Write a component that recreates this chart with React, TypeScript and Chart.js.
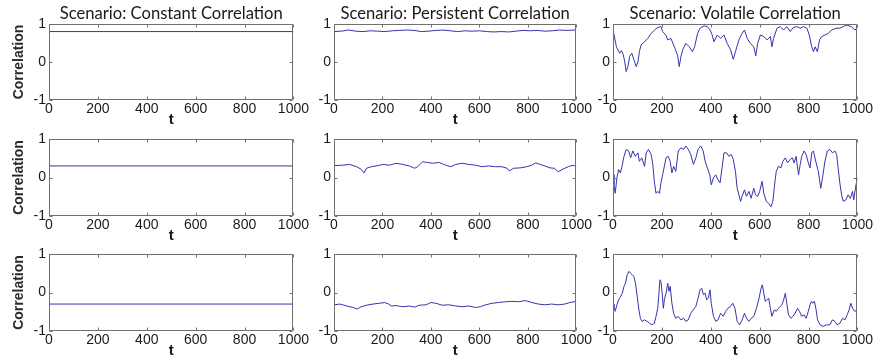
import React, { useEffect, useRef } from "react";
import { Chart, registerables } from "chart.js";

Chart.register(...registerables);

// ---------- data ----------
const TITLES = [
  "Scenario: Constant Correlation",
  "Scenario: Persistent Correlation",
  "Scenario: Volatile Correlation",
];
const Y_TITLE = "Correlation";
const X_TITLE = "t";
const X_TICKS = [0, 200, 400, 600, 800, 1000];
const Y_TICKS = [-1, 0, 1];

// constant scenario
const C_T = [0, 1000];
const C1_V = [0.8, 0.8];
const C2_V = [0.3, 0.3];
const C3_V = [-0.3, -0.3];

// persistent scenario
const P1_T = [0, 30, 60, 90, 120, 150, 180, 210, 240, 270, 300, 330, 360, 390, 420, 450, 480, 510, 540, 570, 600, 630, 660, 690, 720, 750, 780, 810, 840, 870, 900, 930, 960, 990, 1000];
const P1_V = [0.8, 0.81, 0.84, 0.81, 0.8, 0.82, 0.81, 0.8, 0.82, 0.83, 0.84, 0.83, 0.8, 0.81, 0.83, 0.84, 0.82, 0.8, 0.82, 0.81, 0.82, 0.8, 0.79, 0.8, 0.79, 0.81, 0.83, 0.82, 0.83, 0.81, 0.82, 0.84, 0.83, 0.84, 0.85];

const P2_T = [0, 38, 65, 93, 113, 124, 134, 154, 181, 202, 229, 256, 284, 311, 332, 345, 366, 386, 407, 434, 461, 482, 502, 529, 557, 584, 611, 638, 666, 693, 714, 723, 741, 768, 795, 816, 832, 850, 870, 891, 909, 925, 945, 966, 986, 1000];
const P2_V = [0.31, 0.32, 0.34, 0.28, 0.21, 0.12, 0.24, 0.28, 0.31, 0.34, 0.32, 0.37, 0.34, 0.3, 0.24, 0.28, 0.41, 0.39, 0.37, 0.39, 0.32, 0.28, 0.34, 0.37, 0.34, 0.32, 0.28, 0.3, 0.28, 0.28, 0.24, 0.17, 0.24, 0.25, 0.28, 0.32, 0.38, 0.34, 0.3, 0.25, 0.24, 0.15, 0.22, 0.28, 0.32, 0.28];

const P3_T = [0, 25, 52, 79, 95, 113, 134, 161, 188, 209, 226, 236, 256, 284, 311, 332, 352, 379, 400, 420, 447, 475, 502, 529, 557, 584, 604, 625, 652, 679, 707, 734, 761, 789, 816, 843, 870, 898, 925, 952, 973, 1000];
const P3_V = [-0.32, -0.3, -0.35, -0.39, -0.43, -0.37, -0.33, -0.3, -0.28, -0.26, -0.3, -0.35, -0.34, -0.37, -0.35, -0.38, -0.33, -0.32, -0.26, -0.28, -0.33, -0.32, -0.35, -0.37, -0.35, -0.39, -0.37, -0.32, -0.28, -0.26, -0.24, -0.23, -0.24, -0.21, -0.26, -0.3, -0.32, -0.3, -0.32, -0.3, -0.26, -0.23];

// volatile scenario
const V1_T = [0, 14, 27, 34, 40, 47, 54, 61, 68, 77, 85, 95, 102, 108, 115, 129, 142, 156, 170, 183, 196, 203, 217, 224, 237, 251, 264, 271, 278, 285, 298, 312, 325, 334, 346, 356, 373, 386, 397, 406, 413, 427, 440, 454, 467, 481, 492, 501, 515, 528, 538, 549, 562, 576, 584, 592, 603, 617, 630, 644, 650, 657, 671, 684, 698, 711, 725, 738, 752, 766, 779, 793, 803, 813, 820, 827, 836, 845, 854, 867, 881, 894, 915, 928, 942, 955, 976, 989, 1000];
const V1_V = [0.85, 0.4, 0.23, 0.3, 0.23, 0.05, -0.25, -0.12, 0.14, 0.23, 0.07, -0.12, 0.0, 0.27, 0.45, 0.53, 0.62, 0.75, 0.84, 0.91, 0.93, 0.8, 0.7, 0.58, 0.62, 0.4, 0.18, -0.12, 0.14, 0.32, 0.49, 0.4, 0.27, 0.4, 0.75, 0.89, 0.95, 0.93, 0.84, 0.71, 0.53, 0.71, 0.62, 0.71, 0.49, 0.32, 0.07, 0.27, 0.58, 0.75, 0.84, 0.62, 0.49, 0.4, 0.16, 0.49, 0.71, 0.67, 0.58, 0.67, 0.4, 0.62, 0.89, 0.93, 0.84, 0.93, 0.8, 0.91, 0.93, 0.89, 0.93, 0.89, 0.71, 0.4, 0.27, 0.4, 0.27, 0.58, 0.67, 0.71, 0.75, 0.84, 0.89, 0.89, 0.93, 0.97, 0.93, 0.84, 0.89];

const V2_T = [0, 4, 9, 16, 23, 30, 37, 45, 54, 64, 72, 81, 91, 102, 108, 118, 129, 136, 145, 156, 163, 169, 176, 183, 190, 196, 203, 210, 217, 226, 234, 241, 248, 257, 267, 278, 289, 298, 308, 318, 329, 339, 348, 359, 369, 377, 386, 396, 402, 411, 420, 430, 438, 447, 454, 465, 474, 484, 492, 501, 508, 515, 522, 528, 538, 546, 556, 565, 576, 583, 592, 600, 610, 617, 627, 637, 646, 654, 661, 668, 677, 687, 695, 705, 714, 725, 734, 741, 749, 759, 766, 772, 782, 790, 799, 806, 813, 820, 831, 840, 850, 858, 867, 877, 887, 898, 908, 915, 921, 928, 935, 942, 953, 962, 971, 980, 985, 993, 1000];
const V2_V = [0.08, -0.19, -0.41, -0.01, 0.21, 0.12, 0.29, 0.55, 0.73, 0.69, 0.51, 0.69, 0.55, 0.64, 0.42, 0.51, 0.29, 0.64, 0.73, 0.6, 0.34, -0.1, -0.41, -0.36, -0.41, -0.14, 0.07, 0.29, 0.51, 0.55, 0.42, 0.12, 0.29, 0.16, 0.69, 0.77, 0.73, 0.82, 0.73, 0.6, 0.34, 0.51, 0.73, 0.82, 0.69, 0.42, 0.25, 0.07, -0.19, -0.01, 0.07, -0.06, -0.14, 0.29, 0.64, 0.64, 0.55, 0.6, 0.47, 0.16, -0.28, -0.45, -0.62, -0.49, -0.32, -0.49, -0.36, -0.54, -0.28, -0.45, -0.49, -0.36, -0.1, -0.41, -0.62, -0.67, -0.76, -0.62, -0.19, 0.16, 0.29, 0.25, 0.42, 0.51, 0.38, 0.47, 0.51, 0.38, 0.55, 0.07, 0.34, 0.55, 0.69, 0.6, 0.38, 0.25, 0.64, 0.69, 0.38, 0.16, -0.28, 0.03, 0.42, 0.69, 0.73, 0.64, 0.69, 0.6, 0.25, -0.14, -0.45, -0.62, -0.58, -0.45, -0.54, -0.36, -0.58, -0.23, -0.01];

const V3_T = [0, 4, 9, 16, 23, 31, 38, 45, 51, 58, 65, 72, 79, 85, 92, 99, 106, 112, 119, 129, 140, 149, 159, 169, 176, 183, 187, 192, 196, 201, 206, 210, 217, 224, 229, 234, 241, 248, 257, 267, 278, 289, 298, 308, 318, 329, 339, 348, 356, 363, 370, 377, 383, 390, 397, 402, 411, 420, 430, 440, 451, 461, 470, 481, 490, 499, 508, 518, 528, 538, 546, 556, 565, 576, 587, 596, 606, 611, 617, 623, 630, 637, 644, 650, 660, 668, 677, 684, 691, 698, 705, 711, 718, 728, 736, 745, 755, 763, 772, 782, 790, 799, 806, 812, 817, 824, 831, 837, 847, 860, 874, 887, 898, 908, 917, 928, 939, 949, 958, 966, 973, 980, 989, 1000];
const V3_V = [-0.3, -0.36, -0.49, -0.32, -0.19, -0.1, -0.02, 0.16, 0.24, 0.46, 0.55, 0.5, 0.46, 0.42, 0.24, -0.1, -0.45, -0.67, -0.75, -0.71, -0.75, -0.8, -0.84, -0.8, -0.62, -0.41, -0.1, 0.33, 0.29, -0.02, -0.41, -0.19, -0.02, 0.24, 0.03, 0.16, -0.28, -0.54, -0.67, -0.62, -0.71, -0.67, -0.75, -0.71, -0.54, -0.45, -0.36, -0.15, 0.07, 0.11, -0.06, -0.02, -0.19, -0.15, 0.07, -0.28, -0.62, -0.75, -0.71, -0.54, -0.62, -0.49, -0.41, -0.36, -0.28, -0.41, -0.75, -0.84, -0.71, -0.54, -0.67, -0.75, -0.67, -0.62, -0.41, -0.19, 0.11, 0.2, -0.02, -0.23, -0.19, -0.15, -0.41, -0.62, -0.45, -0.49, -0.41, -0.36, -0.32, -0.19, -0.02, -0.28, -0.58, -0.67, -0.62, -0.54, -0.41, -0.49, -0.62, -0.58, -0.67, -0.49, -0.32, -0.23, -0.28, -0.23, -0.45, -0.71, -0.84, -0.88, -0.84, -0.84, -0.71, -0.75, -0.84, -0.8, -0.67, -0.71, -0.58, -0.45, -0.28, -0.41, -0.49, -0.45];

// ---------- layout (styles, not data) ----------
const COL_LEFT = [49, 334, 613];
const COL_RIGHT = [295, 578, 859];
const ROW_TOP = [24, 139, 254];
const ROW_BOTTOM = [100, 216, 331];
const PAD_L = 48;
const PAD_T = 24;
const PAD_B = 30;
const PAD_R = 15;

const LINE_COLOR = "#3434ae";
const BOX_COLOR = "#707070";
const TEXT_COLOR = "#1a1a1a";
const TICK_FONT = "'Liberation Sans Narrow', 'Arial Narrow', Arial, sans-serif";

const boxPlugin = {
  id: "matlabBox",
  afterDraw(chart: any) {
    const { ctx, chartArea } = chart;
    const { left, right, top, bottom } = chartArea;
    const xs = chart.scales.x;
    const ys = chart.scales.y;
    ctx.save();
    ctx.strokeStyle = BOX_COLOR;
    ctx.lineWidth = 1;
    const L = Math.round(left) + 0.5;
    const R = Math.round(right) - 0.5;
    const T = Math.round(top) + 0.5;
    const B = Math.round(bottom) - 0.5;
    ctx.beginPath();
    ctx.rect(L, T, R - L, B - T);
    const tl = 3;
    xs.ticks.forEach((tk: any) => {
      const px = Math.round(xs.getPixelForValue(tk.value)) + 0.5;
      ctx.moveTo(px, B);
      ctx.lineTo(px, B - tl);
      ctx.moveTo(px, T);
      ctx.lineTo(px, T + tl);
    });
    ys.ticks.forEach((tk: any) => {
      const py = Math.round(ys.getPixelForValue(tk.value)) + 0.5;
      ctx.moveTo(L, py);
      ctx.lineTo(L + tl, py);
      ctx.moveTo(R, py);
      ctx.lineTo(R - tl, py);
    });
    ctx.stroke();
    ctx.restore();
  },
};

type PanelProps = {
  row: number;
  col: number;
  t: number[];
  v: number[];
};

function Panel({ row, col, t, v }: PanelProps) {
  const ref = useRef<HTMLCanvasElement | null>(null);
  const plotW = COL_RIGHT[col] - COL_LEFT[col];
  const plotH = ROW_BOTTOM[row] - ROW_TOP[row];
  const W = plotW + PAD_L + PAD_R;
  const H = plotH + PAD_T + PAD_B;
  const showTitle = row === 0;
  const showY = col === 0;

  useEffect(() => {
    if (!ref.current) return;
    const chart = new Chart(ref.current, {
      type: "line",
      data: {
        datasets: [
          {
            data: t.map((x, i) => ({ x, y: v[i] })),
            borderColor: LINE_COLOR,
            borderWidth: 1,
            pointRadius: 0,
            tension: 0,
            fill: false,
          },
        ],
      },
      options: {
        animation: false,
        responsive: false,
        devicePixelRatio: 1,
        events: [],
        layout: {
          padding: { top: showTitle ? 0 : PAD_T, right: PAD_R, bottom: 0, left: 0 },
        },
        plugins: {
          legend: { display: false },
          tooltip: { enabled: false },
          title: {
            display: showTitle,
            text: TITLES[col],
            fullSize: false,
            color: TEXT_COLOR,
            font: { family: "Lato, 'Open Sans', sans-serif", size: 16.6, weight: "normal", lineHeight: 1.1 },
            padding: { top: 5, bottom: 0.7 },
          },
        },
        scales: {
          x: {
            type: "linear",
            min: X_TICKS[0],
            max: X_TICKS[X_TICKS.length - 1],
            afterBuildTicks: (s: any) => {
              s.ticks = X_TICKS.map((value) => ({ value }));
            },
            afterFit: (s: any) => {
              s.height = PAD_B;
            },
            grid: { display: false, drawTicks: false },
            border: { display: false },
            ticks: {
              color: TEXT_COLOR,
              padding: 1,
              maxRotation: 0,
              autoSkip: false,
              font: { family: TICK_FONT, size: 14 },
              callback: (val: any) => String(val),
            },
            title: {
              display: true,
              text: X_TITLE,
              color: TEXT_COLOR,
              font: { family: "Arial, sans-serif", size: 15, weight: "bold" },
              padding: { top: 0, bottom: 1 },
            },
          },
          y: {
            type: "linear",
            min: Y_TICKS[0],
            max: Y_TICKS[Y_TICKS.length - 1],
            afterBuildTicks: (s: any) => {
              s.ticks = Y_TICKS.map((value) => ({ value }));
            },
            afterFit: (s: any) => {
              s.width = PAD_L;
            },
            grid: { display: false, drawTicks: false },
            border: { display: false },
            ticks: {
              color: TEXT_COLOR,
              padding: 3,
              font: { family: TICK_FONT, size: 14 },
              callback: (val: any) => String(val),
            },
            title: {
              display: showY,
              text: Y_TITLE,
              color: "#2a2a2a",
              font: { family: TICK_FONT, size: 14, weight: "bold" },
              padding: { top: 9.6, bottom: 0 },
            },
          },
        },
      },
      plugins: [boxPlugin],
    } as any);
    return () => chart.destroy();
  }, [row, col, t, v]);

  return (
    <canvas
      ref={ref}
      width={W}
      height={H}
      style={{
        position: "absolute",
        left: COL_LEFT[col] - PAD_L,
        top: ROW_TOP[row] - PAD_T,
        width: W,
        height: H,
        display: "block",
      }}
    />
  );
}

const SERIES: [number[], number[]][][] = [
  [[C_T, C1_V], [P1_T, P1_V], [V1_T, V1_V]],
  [[C_T, C2_V], [P2_T, P2_V], [V2_T, V2_V]],
  [[C_T, C3_V], [P3_T, P3_V], [V3_T, V3_V]],
];

export default function App() {
  return (
    <div
      style={{
        position: "absolute",
        left: 0,
        top: 0,
        width: 874,
        height: 359,
        overflow: "hidden",
        background: "#ffffff",
      }}
    >
      {SERIES.map((rowSeries, r) =>
        rowSeries.map(([t, v], c) => <Panel key={`${r}-${c}`} row={r} col={c} t={t} v={v} />)
      )}
    </div>
  );
}
